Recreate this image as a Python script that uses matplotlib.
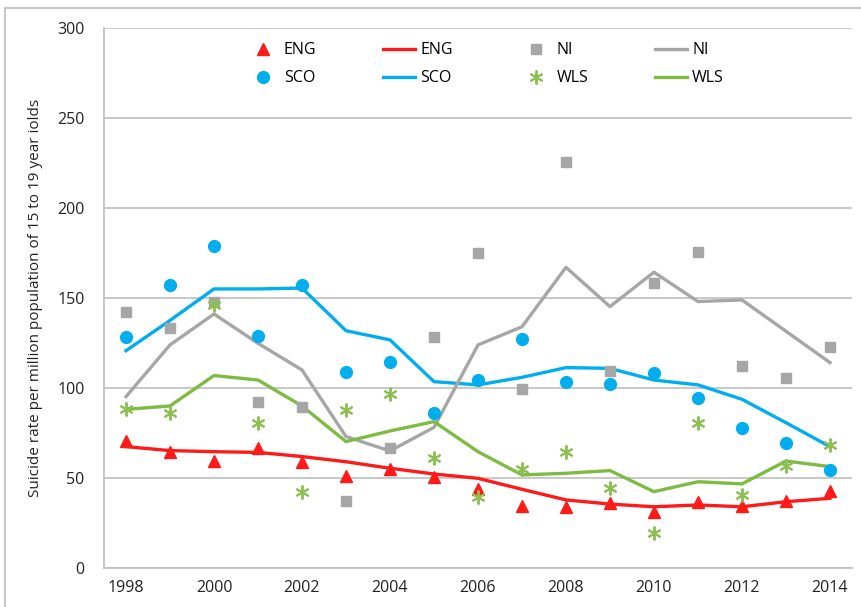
import matplotlib
matplotlib.use("Agg")
import matplotlib.pyplot as plt
from matplotlib.lines import Line2D
import numpy as np

years = list(range(1998, 2015))
tick_years = [str(y) if y % 2 == 0 else "" for y in years]

# Annual rates (markers) and smoothed trend (lines), per million 15-19 year olds
eng_rate = [70.7, 64.6, 59.4, 66.8, 58.7, 51.1, 54.8, 50.4, 43.7, 34.4, 33.7, 36.3, 31.3, 36.7, 34.4, 37.4, 43.0]
eng_trend = [67.4, 65.2, 64.6, 64.2, 61.9, 59.0, 55.4, 52.2, 49.8, 43.7, 37.8, 35.5, 34.0, 35.0, 34.0, 36.8, 38.7]

sco_rate = [128.1, 157.4, 179.0, 128.9, 157.4, 109.1, 114.6, 86.3, 104.4, 127.0, 103.2, 102.0, 108.1, 94.6, 78.0, 69.3, 54.4]
sco_trend = [120.7, 137.5, 155.0, 155.0, 155.5, 131.8, 126.7, 103.5, 101.7, 105.9, 111.3, 110.9, 104.4, 101.7, 93.7, 80.7, 67.4]

ni_rate = [142.4, 133.5, 147.5, 92.0, 89.6, 37.0, 66.9, 128.1, 174.8, 99.4, 225.7, 109.6, 158.1, 175.7, 112.4, 105.4, 123.0]
ni_trend = [95.2, 123.9, 141.1, 124.8, 110.0, 73.0, 65.0, 78.1, 123.9, 134.0, 167.0, 145.2, 164.3, 148.0, 148.9, 131.5, 114.1]

wls_rate = [88.1, 86.3, 146.1, 80.4, 42.0, 87.8, 96.5, 61.3, 39.6, 54.8, 64.6, 44.3, 19.6, 80.7, 40.6, 56.7, 68.3]
wls_trend = [88.1, 90.0, 106.9, 104.4, 90.0, 70.2, 76.1, 81.3, 64.6, 51.7, 52.6, 54.1, 42.4, 47.9, 46.7, 59.4, 56.3]

RED = "#FF1A1A"
BLUE = "#00AEEF"
GREY = "#A6A6A6"
GREEN = "#7DBB42"
STAR_GREEN = "#8CC152"

plt.rcParams["font.family"] = ["Open Sans", "DejaVu Sans"]

W, H = 861, 607
fig = plt.figure(figsize=(W / 100, H / 100), dpi=100)

# Chart-area border (left and top edges)
border = dict(color="#C8C8C8", lw=1.5, transform=fig.transFigure)
fig.add_artist(Line2D([5 / W, 5 / W], [0, 1 - 8 / H], **border))
fig.add_artist(Line2D([5 / W, 1], [1 - 8 / H, 1 - 8 / H], **border))

ax = fig.add_axes([0.1208, 0.0643, 0.8687, 0.8897])

x = np.arange(len(years))
lw = 2.4

h_eng_m, = ax.plot(x, eng_rate, ls="none", marker="^", ms=8.5, color=RED, zorder=4)
h_sco_m, = ax.plot(x, sco_rate, ls="none", marker="o", ms=8.5, color=BLUE, zorder=4)
h_ni_m, = ax.plot(x, ni_rate, ls="none", marker="s", ms=7, color=GREY, zorder=4)
h_wls_m, = ax.plot(x, wls_rate, ls="none", marker=(6, 2, 0), ms=10, mew=1.4,
                   color=STAR_GREEN, zorder=4)

h_eng_l, = ax.plot(x, eng_trend, color=RED, lw=lw, zorder=3)
h_sco_l, = ax.plot(x, sco_trend, color=BLUE, lw=lw, zorder=3)
h_ni_l, = ax.plot(x, ni_trend, color=GREY, lw=lw, zorder=3)
h_wls_l, = ax.plot(x, wls_trend, color=GREEN, lw=lw, zorder=3)

ax.set_xlim(-0.5, len(years) - 0.5)
ax.set_ylim(0, 300)
ax.set_yticks(np.arange(0, 301, 50))
ax.set_xticks(x)
ax.set_xticklabels(tick_years)
ax.tick_params(axis="both", length=0, labelsize=11.5, colors="#222222")
ax.tick_params(axis="y", pad=14)
ax.tick_params(axis="x", pad=9)

ax.grid(axis="y", color="#BFBFBF", lw=1.2)
ax.set_axisbelow(True)
for side in ("top", "right"):
    ax.spines[side].set_visible(False)
for side in ("left", "bottom"):
    ax.spines[side].set_color("#BFBFBF")
    ax.spines[side].set_linewidth(1.2)

ax.set_ylabel("Suicide rate per million population of 15 to 19 year iolds",
              fontsize=11, color="#222222", labelpad=10)

handles = [h_eng_m, h_sco_m, h_eng_l, h_sco_l, h_ni_m, h_wls_m, h_ni_l, h_wls_l]
labels = ["ENG", "SCO", "ENG", "SCO", "NI", "WLS", "NI", "WLS"]
ax.legend(handles, labels, ncol=4, frameon=False, loc="upper center",
          bbox_to_anchor=(0.51, 1.0), fontsize=11.5, columnspacing=4.2,
          handlelength=2.0, handletextpad=0.3, labelspacing=0.75)

fig.savefig("out.png", dpi=100)
